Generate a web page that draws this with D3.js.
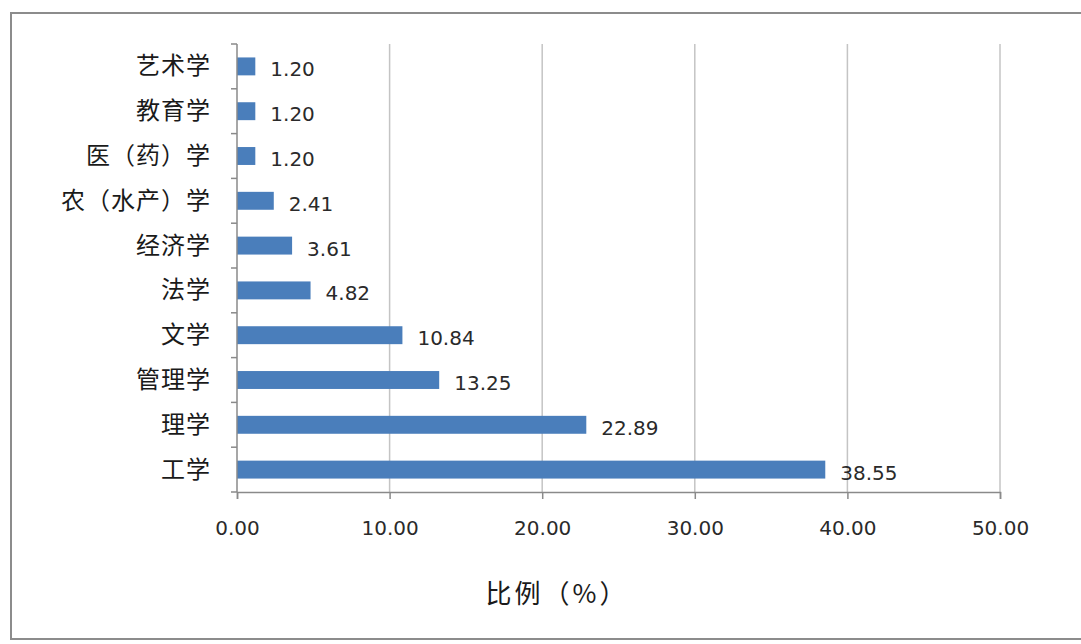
<!DOCTYPE html>
<html><head><meta charset="utf-8">
<script src="https://cdn.jsdelivr.net/npm/d3@7"></script>
<style>html,body{margin:0;padding:0;background:#fff;}</style>
</head><body>
<svg id="chart" width="1081" height="644"></svg>
<script>
const categories = ["艺术学","教育学","医（药）学","农（水产）学","经济学","法学","文学","管理学","理学","工学"];
const values = [1.20,1.20,1.20,2.41,3.61,4.82,10.84,13.25,22.89,38.55];
const xTicks = [0,10,20,30,40,50];
const xTitle = "比例（%）";

const svg = d3.select("#chart");
const pLeft = 237, pRight = 1000, pTop = 44, pBottom = 492;

// frame
svg.append("rect").attr("x",11).attr("y",13).attr("width",1090).attr("height",626)
  .attr("fill","#fff").attr("stroke","#8c8c8c").attr("stroke-width",2);

const x = d3.scaleLinear().domain([0,50]).range([pLeft,pRight]);
const y = d3.scaleBand().domain(categories).range([pTop,pBottom]).paddingInner(0.6).paddingOuter(0.3);

// gridlines
svg.append("g").selectAll("line").data(xTicks.filter(d=>d>0)).join("line")
  .attr("x1",d=>x(d)).attr("x2",d=>x(d)).attr("y1",pTop).attr("y2",pBottom)
  .attr("stroke","#c4c4c4").attr("stroke-width",1.5);

// bars
svg.append("g").selectAll("rect").data(values).join("rect")
  .attr("x",x(0)).attr("y",(d,i)=>y(categories[i]))
  .attr("width",d=>x(d)-x(0)).attr("height",y.bandwidth())
  .attr("fill","#4a7ebb");

// value labels
svg.append("g").selectAll("text").data(values).join("text")
  .attr("x",d=>x(d)+15).attr("y",(d,i)=>y(categories[i])+y.bandwidth()/2+10)
  .attr("font-family","DejaVu Sans, sans-serif").attr("font-size",20).attr("fill","#2a2a2a")
  .text(d=>d.toFixed(2));

// x axis
const xAxis = d3.axisBottom(x).tickValues(xTicks).tickSize(7).tickFormat(d=>d.toFixed(2));
const gx = svg.append("g").attr("transform",`translate(0,${pBottom})`).call(xAxis);
gx.select(".domain").attr("stroke","#8a8a8a").attr("stroke-width",1.5);
gx.selectAll(".tick line").attr("stroke","#8a8a8a").attr("stroke-width",1.5);
gx.selectAll(".tick text").attr("font-family","DejaVu Sans, sans-serif").attr("font-size",20)
  .attr("fill","#2a2a2a").attr("dy",null).attr("y",43);

// y axis (ticks at band boundaries)
const gy = svg.append("g");
gy.append("line").attr("x1",pLeft).attr("x2",pLeft).attr("y1",pTop).attr("y2",pBottom)
  .attr("stroke","#8a8a8a").attr("stroke-width",1.5);
const bounds = d3.range(categories.length+1).map(i=>pTop + (pBottom-pTop)*i/categories.length);
gy.selectAll("line.t").data(bounds).join("line").attr("class","t")
  .attr("x1",pLeft-6).attr("x2",pLeft).attr("y1",d=>d).attr("y2",d=>d)
  .attr("stroke","#8a8a8a").attr("stroke-width",1.5);
gy.selectAll("text").data(categories).join("text")
  .attr("x",211).attr("y",d=>y(d)+y.bandwidth()/2+8)
  .attr("text-anchor","end").attr("font-family","Noto Sans CJK SC, sans-serif")
  .attr("font-size",24).attr("letter-spacing",1).attr("fill","#1a1a1a").text(d=>d);

// x title
svg.append("text").attr("x",557).attr("y",603).attr("text-anchor","middle")
  .attr("font-family","Noto Sans CJK SC, sans-serif").attr("font-size",26).attr("letter-spacing",3)
  .attr("fill","#1a1a1a").text(xTitle);
</script>
</body></html>
